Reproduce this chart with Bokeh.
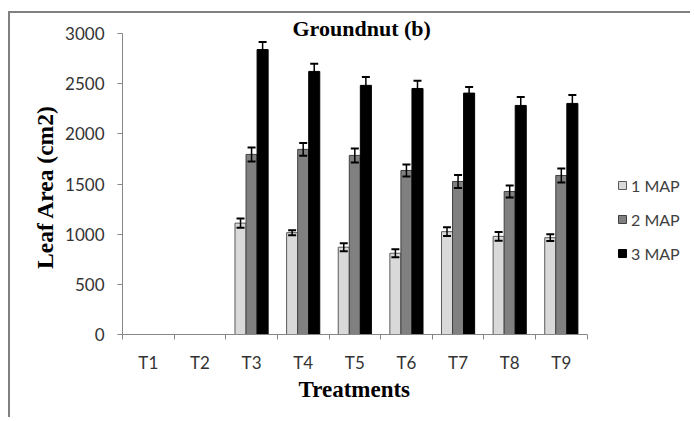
from bokeh.plotting import figure
from bokeh.layouts import column
from bokeh.models import Range1d, FixedTicker, Legend, LegendItem, Title, ColumnDataSource, Div
from bokeh.transform import dodge
from bokeh.embed import file_html
from bokeh.resources import INLINE

categories = ["T1", "T2", "T3", "T4", "T5", "T6", "T7", "T8", "T9"]
series_names = ["1 MAP", "2 MAP", "3 MAP"]
map1 = [0, 0, 1110, 1015, 870, 810, 1025, 978, 965]
map1_err = [0, 0, 45, 25, 40, 40, 43, 43, 33]
map2 = [0, 0, 1795, 1845, 1785, 1635, 1525, 1425, 1585]
map2_err = [0, 0, 70, 63, 70, 60, 65, 60, 70]
map3 = [0, 0, 2840, 2622, 2483, 2452, 2406, 2283, 2303]
map3_err = [0, 0, 76, 77, 83, 77, 60, 83, 85]
y_ticks = [0, 500, 1000, 1500, 2000, 2500, 3000]
y_max = 3000

fills = ["#d9d9d9", "#808080", "#000000"]
outlines = ["#595959", "#404040", "#000000"]
bar_w = 0.214
offsets = [-bar_w, 0.0, bar_w]

TICK_FONT = "Lato"
SERIF = "Liberation Serif"

W, H = 680, 404
LEFT, TOP, BOTTOM = 112, 20, 83
AXIS_PX_X = 463          # pixel length of the category axis
n = len(categories)
frame_w = W - LEFT

p = figure(width=W, height=H, output_backend="svg", toolbar_location=None,
           x_range=Range1d(0, n * frame_w / AXIS_PX_X),
           y_range=Range1d(0, y_max),
           min_border_left=LEFT, min_border_right=0, min_border_top=TOP,
           min_border_bottom=BOTTOM)
p.margin = 0
p.styles = {"border-left": "2px solid #808080", "box-sizing": "content-box"}
p.outline_line_color = None
p.xgrid.visible = False
p.ygrid.visible = False
p.background_fill_color = "white"
p.border_fill_color = "white"

p.title.text = "Groundnut (b)"
p.title.align = "left"
p.title.offset = 170
p.title.standoff = -15
p.title.text_font = SERIF
p.title.text_font_style = "bold"
p.title.text_font_size = "22px"
p.title.text_color = "black"

centers = [i + 0.5 for i in range(n)]

renderers = []
for vals, errs, off, fc, lc in zip([map1, map2, map3], [map1_err, map2_err, map3_err],
                                   offsets, fills, outlines):
    idx = [i for i, v in enumerate(vals) if v > 0]
    src = ColumnDataSource(dict(
        x=[centers[i] for i in idx],
        top=[vals[i] for i in idx],
        lower=[vals[i] - errs[i] for i in idx],
        upper=[vals[i] + errs[i] for i in idx],
    ))
    r = p.vbar(x=dodge("x", off), top="top", bottom=0, width=bar_w, source=src,
               fill_color=fc, line_color=lc, line_width=1)
    renderers.append(r)
    p.segment(x0=dodge("x", off), y0="lower", x1=dodge("x", off), y1="upper",
              source=src, line_color="black", line_width=1.5)
    p.scatter(x=dodge("x", off), y="upper", marker="dash", size=8, line_width=2,
              line_color="black", source=src)
    p.scatter(x=dodge("x", off), y="lower", marker="dash", size=8, line_width=2,
              line_color="black", source=src)

xax = p.xaxis[0]
xax.bounds = (0, n)
xax.ticker = FixedTicker(ticks=centers, minor_ticks=list(range(n + 1)))
xax.major_label_overrides = {c: lab for c, lab in zip(centers, categories)}
xax.major_tick_line_color = None
xax.major_tick_out = 0
xax.major_tick_in = 0
xax.minor_tick_line_color = "#868686"
xax.minor_tick_out = 5
xax.minor_tick_in = 0
xax.axis_line_color = "#868686"
xax.major_label_text_font = TICK_FONT
xax.major_label_text_font_size = "17px"
xax.major_label_text_color = "#333333"
xax.major_label_standoff = 12

xlabel = Title(text="Treatments", align="left", offset=176, vertical_align="top",
               standoff=2, text_font=SERIF, text_font_style="bold",
               text_font_size="23px", text_color="black")
p.add_layout(xlabel, "below")

yax = p.yaxis[0]
yax.bounds = (0, y_max)
yax.ticker = FixedTicker(ticks=y_ticks)
yax.minor_tick_line_color = None
yax.major_tick_out = 5
yax.major_tick_in = 0
yax.major_tick_line_color = "#868686"
yax.axis_line_color = "#868686"
yax.major_label_text_font = TICK_FONT
yax.major_label_text_font_size = "17px"
yax.major_label_text_color = "#333333"
yax.major_label_standoff = 13
yax.axis_label = "Leaf  Area (cm2)"
yax.axis_label_text_font = SERIF
yax.axis_label_text_font_style = "bold"
yax.axis_label_text_font_size = "23.5px"
yax.axis_label_text_color = "black"
yax.axis_label_standoff = 4

legend = Legend(items=[LegendItem(label=s, renderers=[r]) for s, r in zip(series_names, renderers)],
                location=(495, 71), orientation="vertical",
                glyph_width=10, glyph_height=10, label_height=20, spacing=14,
                label_standoff=4, padding=0, margin=0,
                border_line_color=None, background_fill_alpha=0,
                label_text_font=TICK_FONT, label_text_font_size="16px",
                label_text_color="#404040")
p.add_layout(legend)

# outer frame top edge of the chart box
top_edge = Div(text="", width=W + 2, height=2, margin=0,
               styles={"background-color": "#808080"})

layout = column(top_edge, p, spacing=0, margin=(11, 0, 0, 8))

open("out.html", "w").write(file_html(layout, INLINE))
